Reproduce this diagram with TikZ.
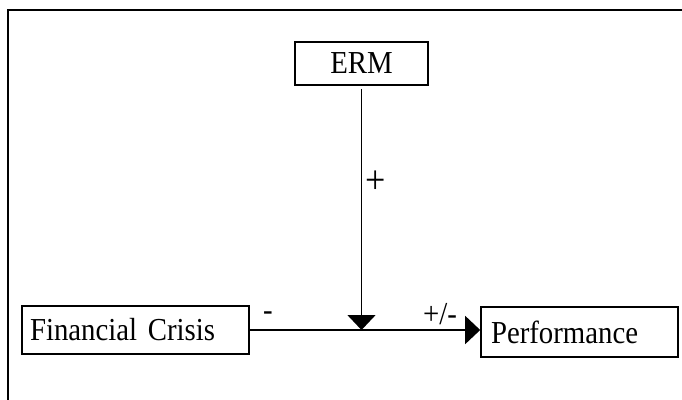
\documentclass[tikz,border=0pt]{standalone}
\usepackage{fontspec}
\setmainfont[FakeStretch=0.9]{Liberation Serif}
\usetikzlibrary{positioning,calc,arrows.meta}

\tikzset{
    factor/.style={draw,line width=1.6pt,inner sep=0pt,minimum height=48pt,font=\fontsize{32}{34}\selectfont},
    link/.style={line width=1.6pt,-{Triangle[length=15pt,width=28pt]}},
    sign/.style={inner sep=0pt,font=\fontsize{32}{34}\selectfont}
}

\begin{document}
\begin{tikzpicture}[x=1pt,y=-1pt]
    \useasboundingbox (0,0) rectangle (682,399);
    \draw[line width=1.8pt] (8,10) rectangle (686,403);

    \node[factor,minimum width=133pt,minimum height=43pt] (erm) at (361.5,63.5) {ERM};
    \node[factor,minimum width=227pt,text width=211pt,align=left,inner xsep=8pt] (crisis) at (135.5,330) {Financial Crisis};
    \node[factor,minimum width=197pt,minimum height=50pt,text width=177pt,align=left,inner xsep=10pt] (perf) at (579.5,332) {Performance};

    \coordinate (joint) at (erm.south |- crisis.east);

    \draw[link] (crisis.east) -- (perf.west |- crisis.east);
    \draw[link] ($(erm.south)+(0,3)$) -- (joint);

    \node[sign,font=\fontsize{40}{42}\selectfont] (plus) at (376,182) {+};
    \node[sign] (minus) at (268,316) {-};
    \node[sign] (mixed) at (440,314) {+/-};

\end{tikzpicture}
\end{document}
